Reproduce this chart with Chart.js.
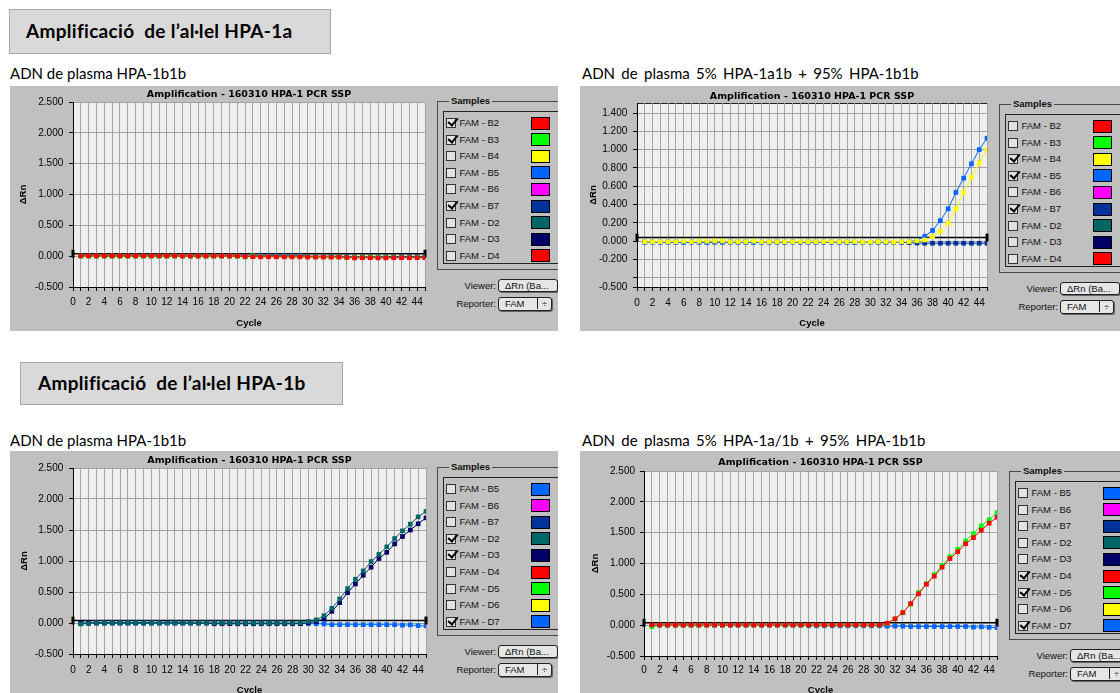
<!DOCTYPE html>
<html>
<head>
<meta charset="utf-8">
<title>Amplificació HPA-1</title>
<style>
  body { margin: 0; width: 1120px; height: 693px; overflow: hidden; background: #fff; position: relative; }
  .hdr { position: absolute; background: #d9d9d9; border: 1px solid #a6a6a6; box-sizing: border-box; }
  .txt { position: absolute; white-space: pre; font-family: Lato, sans-serif; line-height: 1; color: #000; }
  .head { font-size: 19px; font-weight: bold; letter-spacing: 0.3px; }
  .sub { font-size: 15px; }
  .wide { word-spacing: 2.5px; }
  .panel { position: absolute; background: #c0c0c0; overflow: hidden; font-family: "Liberation Sans", Arial, sans-serif; font-size: 9.5px; color: #111; }
  .panel canvas { position: absolute; left: 0; top: 0; z-index: 1; }
  .plotbg { position: absolute; background: #efefef; border-top: 1px solid #222; border-right: 1px solid #222; box-sizing: border-box; }
  .group { position: absolute; width: 300px; height: 169px; border: 1px solid #4a4a4a; box-sizing: border-box; }
  .cap { position: absolute; font-weight: bold; background: #c0c0c0; padding: 0 2px; line-height: 12px; }
  .list { position: absolute; width: 300px; height: 153px; border: 1px solid #222; box-sizing: border-box; }
  .cb { position: absolute; width: 10px; height: 10px; border: 1px solid #333; background: #e2e2e2; box-sizing: border-box; }
  .cb.on::after { content: ""; position: absolute; left: 1px; top: -1px; width: 8px; height: 4px; border-left: 2px solid #000; border-bottom: 2px solid #000; transform: rotate(-50deg); }
  .lbl { position: absolute; line-height: 12px; white-space: pre; }
  .sw { position: absolute; width: 19px; height: 13px; border: 1px solid #000; box-sizing: border-box; }
  .btn { position: absolute; height: 13px; border: 1px solid #222; border-radius: 3px; background: #e6e6e6; box-sizing: border-box; line-height: 11px; padding-left: 6px; box-shadow: 1px 1px 0 #666; white-space: pre; }
  .arr { position: absolute; right: 0; top: 0; width: 13px; height: 11px; border-left: 1px solid #222; text-align: center; }
</style>
</head>
<body>
<div class="hdr" style="left:9px;top:9px;width:322px;height:45px"></div>
<div class="txt head" style="left:26px;top:21px">Amplificació  de l’al·lel HPA-1a</div>
<div class="hdr" style="left:20px;top:362px;width:323px;height:43px"></div>
<div class="txt head" style="left:38px;top:373px">Amplificació  de l’al·lel HPA-1b</div>

<div class="txt sub" style="left:10px;top:66px">ADN de plasma HPA-1b1b</div>
<div class="txt sub wide" style="left:582px;top:66px">ADN de plasma 5% HPA-1a1b + 95% HPA-1b1b</div>
<div class="txt sub" style="left:10px;top:433px">ADN de plasma HPA-1b1b</div>
<div class="txt sub wide" style="left:582px;top:433px">ADN de plasma 5% HPA-1a/1b + 95% HPA-1b1b</div>

<div class="panel" id="p1"><canvas id="c1"></canvas></div>
<div class="panel" id="p2"><canvas id="c2"></canvas></div>
<div class="panel" id="p3"><canvas id="c3"></canvas></div>
<div class="panel" id="p4"><canvas id="c4"></canvas></div>

<script src="https://cdn.jsdelivr.net/npm/chart.js@4.4.1/dist/chart.umd.min.js"></script>
<script>
// cycle numbers (x values)
const cycles = [1, 2, 3, 4, 5, 6, 7, 8, 9, 10, 11, 12, 13, 14, 15, 16, 17, 18, 19, 20,
  21, 22, 23, 24, 25, 26, 27, 28, 29, 30, 31, 32, 33, 34, 35, 36, 37, 38, 39, 40,
  41, 42, 43, 44, 45];
const lastCycle = 45;
const threshold = 0.04;
const chartTitle = 'Amplification - 160310 HPA-1 PCR SSP';

// y ticks and their labels
const yTicksWide = [-0.5, 0, 0.5, 1, 1.5, 2, 2.5];
const yLabelsWide = ['-0.500', '0.000', '0.500', '1.000', '1.500', '2.000', '2.500'];
const yTicksNarrow = [-0.5, -0.4, -0.2, 0, 0.2, 0.4, 0.6, 0.8, 1.0, 1.2, 1.4];
const yLabelsNarrow = ['-0.500', '', '-0.200', '0.000', '0.200', '0.400', '0.600', '0.800', '1.000', '1.200', '1.400'];

// legend lists
const samplesB = ['FAM - B2', 'FAM - B3', 'FAM - B4', 'FAM - B5', 'FAM - B6', 'FAM - B7', 'FAM - D2', 'FAM - D3', 'FAM - D4'];
const samplesD = ['FAM - B5', 'FAM - B6', 'FAM - B7', 'FAM - D2', 'FAM - D3', 'FAM - D4', 'FAM - D5', 'FAM - D6', 'FAM - D7'];
const checked1 = ['FAM - B2', 'FAM - B3', 'FAM - B7'];
const checked2 = ['FAM - B4', 'FAM - B5', 'FAM - B7'];
const checked3 = ['FAM - D2', 'FAM - D3', 'FAM - D7'];
const checked4 = ['FAM - D4', 'FAM - D5', 'FAM - D7'];

// delta Rn per cycle
// panel 1: HPA-1b1b, HPA-1a assay
const p1B2 = [0.005, 0.005, 0.005, 0.005, 0.005, 0.005, 0.005, 0.005, 0.005, 0.005,
  0.005, 0.005, 0.005, 0.003, 0.003, 0.003, 0.003, 0.003, 0.003, 0.003,
  0.003, -0.005, -0.008, -0.010, -0.010, -0.010, -0.012, -0.012, -0.012, -0.015,
  -0.015, -0.015, -0.015, -0.015, -0.022, -0.028, -0.025, -0.025, -0.028, -0.028,
  -0.025, -0.025, -0.025, -0.025, -0.025];
const p1B3 = [0, 0, 0, 0, 0, 0, 0, 0, 0, 0,
  0, 0, 0, 0, 0, 0, 0, 0, 0, 0,
  0, -0.015, 0.005, -0.005, -0.005, -0.005, -0.008, -0.008, -0.008, -0.010,
  -0.010, -0.010, -0.010, -0.010, -0.018, -0.018, -0.015, -0.015, -0.018, -0.020,
  -0.020, -0.020, -0.020, -0.020, -0.020];
const p1B7 = [0.005, 0.005, 0.005, 0.005, 0.005, 0.005, 0.005, 0.005, 0.005, 0.005,
  0.005, 0.005, 0.005, 0.005, 0.005, 0.005, 0.005, 0.005, 0.005, 0.005,
  0.005, 0.005, 0.005, 0.015, 0.015, 0.012, 0.015, 0.015, 0.015, 0.000,
  0.000, 0.000, 0.000, 0.000, -0.010, -0.010, -0.010, -0.010, -0.010, -0.008,
  -0.008, -0.008, -0.008, -0.008, -0.008];

// panel 2: 5% HPA-1a1b, HPA-1a assay
const p2B4 = [-0.005, -0.005, -0.005, -0.005, -0.005, 0.000, -0.005, 0.000, 0.000, 0.003,
  0.003, -0.005, -0.005, -0.005, 0.000, -0.005, -0.005, -0.005, -0.005, -0.005,
  -0.003, -0.005, -0.005, -0.005, -0.005, -0.005, -0.005, -0.005, -0.010, -0.010,
  -0.005, -0.005, -0.010, -0.005, -0.005, 0.005, 0.014, 0.050, 0.107, 0.196,
  0.354, 0.532, 0.700, 0.854, 1.000];
const p2B5 = [-0.008, -0.005, -0.008, -0.005, -0.008, -0.012, -0.005, -0.008, -0.012, -0.003,
  -0.008, -0.005, -0.008, -0.008, -0.012, -0.008, -0.008, -0.005, -0.008, -0.005,
  -0.008, -0.008, -0.008, -0.008, -0.008, -0.008, -0.008, -0.010, -0.015, -0.015,
  -0.008, -0.008, -0.015, -0.008, -0.005, 0.014, 0.054, 0.118, 0.225, 0.354,
  0.532, 0.689, 0.846, 1.000, 1.125];
const p2B7 = [-0.010, -0.010, -0.010, -0.010, -0.010, -0.010, -0.010, -0.010, -0.010, -0.010,
  -0.010, -0.010, -0.010, -0.010, -0.010, -0.010, -0.010, -0.010, -0.010, -0.010,
  -0.010, -0.010, -0.010, -0.010, -0.010, -0.010, -0.010, -0.012, -0.012, -0.012,
  -0.010, -0.010, -0.012, -0.012, -0.015, -0.020, -0.022, -0.022, -0.022, -0.022,
  -0.022, -0.022, -0.022, -0.022, -0.022];

// panel 3: HPA-1b1b, HPA-1b assay
const p3D2 = [-0.015, -0.010, 0.003, 0.003, 0.003, 0.003, 0.003, 0.003, 0.003, 0.003,
  0.003, 0.000, 0.003, 0.003, 0.003, 0.003, 0.003, 0.000, 0.000, 0.003,
  0.000, 0.000, 0.000, 0.000, 0.000, 0.000, 0.000, 0.000, 0.005, 0.025,
  0.050, 0.118, 0.237, 0.388, 0.555, 0.705, 0.840, 0.990, 1.109, 1.228,
  1.362, 1.486, 1.594, 1.712, 1.800];
const p3D3 = [0.000, 0.000, 0.000, 0.000, 0.000, 0.000, 0.000, 0.000, 0.000, 0.000,
  0.000, 0.005, 0.000, 0.000, 0.000, 0.000, 0.000, -0.012, -0.012, -0.012,
  -0.012, -0.012, -0.012, -0.012, -0.012, -0.012, -0.012, -0.012, -0.012, 0.005,
  0.025, 0.065, 0.188, 0.328, 0.490, 0.630, 0.770, 0.900, 1.040, 1.140,
  1.276, 1.395, 1.500, 1.600, 1.696];
const p3D7 = [-0.010, 0.000, 0.000, 0.000, 0.000, 0.000, 0.000, 0.000, 0.000, 0.000,
  0.000, 0.000, 0.000, 0.000, 0.000, 0.000, 0.000, 0.000, 0.000, 0.000,
  0.000, 0.000, 0.000, 0.000, 0.000, 0.000, 0.000, -0.005, -0.008, -0.010,
  -0.012, -0.015, -0.027, -0.027, -0.027, -0.027, -0.027, -0.027, -0.027, -0.027,
  -0.027, -0.035, -0.030, -0.042, -0.048];

// panel 4: 5% HPA-1a/1b, HPA-1b assay
const p4D4 = [0.003, 0.003, 0.003, 0.003, 0.003, 0.003, 0.003, 0.003, 0.003, 0.003,
  0.003, 0.003, 0.003, 0.003, 0.003, 0.003, 0.003, 0.003, 0.003, 0.003,
  0.003, 0.003, 0.003, 0.003, 0.003, 0.003, 0.003, 0.003, 0.003, 0.003,
  0.032, 0.103, 0.205, 0.350, 0.508, 0.665, 0.795, 0.940, 1.080, 1.190,
  1.320, 1.420, 1.540, 1.654, 1.750];
const p4D5 = [-0.027, 0.000, 0.000, 0.000, 0.000, 0.000, 0.000, 0.000, 0.000, 0.000,
  0.000, 0.000, 0.000, 0.000, 0.000, 0.000, 0.000, 0.000, 0.000, 0.000,
  0.000, 0.000, 0.000, 0.000, 0.000, 0.000, 0.000, 0.000, 0.000, 0.000,
  0.025, 0.100, 0.200, 0.340, 0.530, 0.670, 0.820, 0.967, 1.110, 1.230,
  1.367, 1.486, 1.610, 1.710, 1.827];
const p4D7 = [0.000, 0.000, 0.000, 0.000, 0.000, 0.000, 0.000, 0.000, 0.000, 0.000,
  0.000, 0.000, 0.000, 0.000, 0.000, 0.000, 0.000, 0.000, 0.000, 0.000,
  -0.011, -0.011, -0.011, -0.011, -0.011, -0.011, -0.011, -0.011, -0.011, -0.011,
  -0.016, -0.016, -0.016, -0.022, -0.022, -0.022, -0.022, -0.022, -0.022, -0.022,
  -0.022, -0.032, -0.027, -0.035, -0.040];

// sample colours as in the software
const sampleColors = {
  'FAM - B2': '#ff0000', 'FAM - B3': '#00ff00', 'FAM - B4': '#ffff00', 'FAM - B5': '#0066ff',
  'FAM - B6': '#ff00ff', 'FAM - B7': '#003399', 'FAM - D2': '#006666', 'FAM - D3': '#000066',
  'FAM - D4': '#ff0000', 'FAM - D5': '#00ff00', 'FAM - D6': '#ffff00', 'FAM - D7': '#0066ff'
};

const panels = [
  { id: 1, box: [10, 86, 548, 245], area: [63, 16, 415, 201], titleY: 8.3, xLabY: 216.7, cycleY: 237.3, yLabR: 53.3, rnX: 13.3,
    yTicks: yTicksWide, yLabels: yLabelsWide, yMax: 2.5, group: [427, 15], samples: samplesB, checked: checked1,
    series: [['FAM - B2', p1B2], ['FAM - B3', p1B3], ['FAM - B7', p1B7]] },
  { id: 2, box: [580, 86, 540, 245], area: [57, 17, 407, 201], titleY: 10.7, xLabY: 217.3, cycleY: 237.3, yLabR: 47.3, rnX: 13,
    yTicks: yTicksNarrow, yLabels: yLabelsNarrow, yMax: 1.51, group: [419, 18], samples: samplesB, checked: checked2,
    series: [['FAM - B4', p2B4], ['FAM - B5', p2B5], ['FAM - B7', p2B7]] },
  { id: 3, box: [10, 451, 548, 245], area: [63, 17, 416, 203], titleY: 10, xLabY: 219, cycleY: 239, yLabR: 53.3, rnX: 14,
    yTicks: yTicksWide, yLabels: yLabelsWide, yMax: 2.5, group: [427, 16], samples: samplesD, checked: checked3,
    series: [['FAM - D2', p3D2], ['FAM - D3', p3D3], ['FAM - D7', p3D7]] },
  { id: 4, box: [580, 451, 540, 245], area: [64, 20, 417, 205], titleY: 12, xLabY: 219, cycleY: 239, yLabR: 55, rnX: 15,
    yTicks: yTicksWide, yLabels: yLabelsWide, yMax: 2.5, group: [429, 20], samples: samplesD, checked: checked4,
    series: [['FAM - D4', p4D4], ['FAM - D5', p4D5], ['FAM - D7', p4D7]] }
];

const tickFont = { family: '"Liberation Sans", Arial, sans-serif', size: 10 };
const boldFont = { family: '"Liberation Sans", Arial, sans-serif', size: 9.5, weight: 'bold' };
const titleFont = { family: '"DejaVu Sans", sans-serif', size: 9.5, weight: 'bold' };

// writes the y scale's tick labels last, at the scale's own tick positions
const yTickText = {
  id: 'yTickText',
  afterDraw(chart) {
    const s = chart.scales.y;
    const ctx = chart.ctx;
    const x = s.right - 4 - s.options.ticks.padding;
    ctx.save();
    ctx.font = '10px "Liberation Sans", Arial, sans-serif';
    ctx.fillStyle = '#000';
    ctx.textAlign = 'right';
    ctx.textBaseline = 'middle';
    s.ticks.forEach(t => {
      if (t.label) ctx.fillText(String(t.label), x, s.getPixelForValue(t.value));
    });
    ctx.restore();
  }
};

function makeChart(p) {
  const [ox, oy, pw, ph] = p.box;
  const [L, T, R, B] = p.area;
  const el = document.getElementById('p' + p.id);
  el.style.left = ox + 'px'; el.style.top = oy + 'px';
  el.style.width = pw + 'px'; el.style.height = ph + 'px';
  const cv = document.getElementById('c' + p.id);
  cv.width = R + 10; cv.height = ph;

  const datasets = p.series.map(([name, vals]) => ({
    label: name,
    data: vals.map((v, i) => ({ x: cycles[i], y: v })),
    borderColor: sampleColors[name],
    backgroundColor: sampleColors[name],
    borderWidth: 1,
    pointStyle: 'rect',
    pointRadius: 3.3,
    pointBorderWidth: 0,
    pointBackgroundColor: sampleColors[name],
    tension: 0
  }));
  datasets.push({
    label: 'Threshold',
    data: [{ x: 0, y: threshold }, { x: lastCycle, y: threshold }],
    borderColor: '#000', borderWidth: 1.5,
    pointStyle: 'line', pointRotation: 90, pointRadius: 4,
    pointBorderWidth: 3, pointBorderColor: '#000',
    clip: false
  });

  const chart = new Chart(cv, {
    type: 'line',
    data: { datasets },
    options: {
      responsive: false, animation: false, devicePixelRatio: 1,
      layout: { padding: { left: 0, top: 0, right: 10, bottom: 0 } },
      plugins: {
        legend: { display: false },
        tooltip: { enabled: false },
        title: { display: true, fullSize: false, text: chartTitle, font: titleFont, color: '#000',
          padding: { top: p.titleY - 5.7, bottom: T - p.titleY - 5.7 } }
      },
      scales: {
        x: {
          type: 'linear', min: 0, max: lastCycle,
          ticks: { stepSize: 1, autoSkip: false, maxRotation: 0, font: tickFont, color: '#000',
            padding: p.xLabY - B - 4 - 6,
            callback: v => (v % 2 === 0 && v < lastCycle) ? String(v) : '' },
          grid: { color: '#a3a3a3', tickColor: '#000', tickLength: 4 },
          border: { color: '#000' },
          title: { display: true, text: 'Cycle', font: boldFont, color: '#000',
            padding: { top: 0, bottom: ph - p.cycleY - 5.7 } },
          afterFit: s => { s.height = ph - B; }
        },
        y: {
          min: -0.5, max: p.yMax,
          afterBuildTicks: s => { s.ticks = p.yTicks.map(v => ({ value: v })); },
          afterTickToLabelConversion: s => { s.ticks.forEach((t, i) => { t.label = p.yLabels[i]; }); },
          ticks: { display: false, autoSkip: false, font: tickFont, color: '#000', padding: L - p.yLabR - 4 },
          grid: { color: '#a3a3a3', tickColor: '#000', tickLength: 4 },
          border: { color: '#000' },
          title: { display: true, text: 'ΔRn', font: boldFont, color: '#000',
            padding: { top: p.rnX - 5.7, bottom: 0 } },
          afterFit: s => { s.width = L; }
        }
      }
    },
    plugins: [yTickText]
  });

  // light plot background with dark top/right edge, placed behind the canvas
  const a = chart.chartArea;
  const bg = document.createElement('div');
  bg.className = 'plotbg';
  Object.assign(bg.style, { left: a.left + 'px', top: a.top + 'px',
    width: (a.right - a.left + 1) + 'px', height: (a.bottom - a.top) + 'px' });
  el.insertBefore(bg, cv);

  // samples box
  const [gx, gy] = p.group;
  const add = (cls, css, text) => {
    const d = document.createElement('div');
    d.className = cls;
    Object.assign(d.style, css);
    if (text) d.textContent = text;
    el.appendChild(d);
    return d;
  };
  add('group', { left: gx + 'px', top: gy + 'px' });
  add('cap', { left: (gx + 12) + 'px', top: (gy - 6) + 'px' }, 'Samples');
  add('list', { left: (gx + 5.5) + 'px', top: (gy + 10) + 'px' });
  p.samples.forEach((name, i) => {
    const cy = gy + 22 + i * 16.6;
    add('cb' + (p.checked.includes(name) ? ' on' : ''), { left: (gx + 8.5) + 'px', top: (cy - 5) + 'px' });
    add('lbl', { left: (gx + 22.5) + 'px', top: (cy - 6) + 'px' }, name);
    add('sw', { left: (gx + 93.5) + 'px', top: (cy - 6.5) + 'px', background: sampleColors[name] });
  });
  add('lbl', { left: (gx - 41) + 'px', top: (gy + 178.5) + 'px', width: '100px', textAlign: 'right' }, 'Viewer:');
  add('btn', { left: (gx + 61) + 'px', top: (gy + 178) + 'px', width: '60px' }, 'ΔRn (Ba...');
  add('lbl', { left: (gx - 41) + 'px', top: (gy + 197) + 'px', width: '100px', textAlign: 'right' }, 'Reporter:');
  const pop = add('btn', { left: (gx + 61) + 'px', top: (gy + 196) + 'px', width: '54px', height: '14px' }, 'FAM');
  const arr = document.createElement('span');
  arr.className = 'arr';
  arr.textContent = '÷';
  pop.appendChild(arr);
}

panels.forEach(makeChart);
</script>
</body>
</html>
